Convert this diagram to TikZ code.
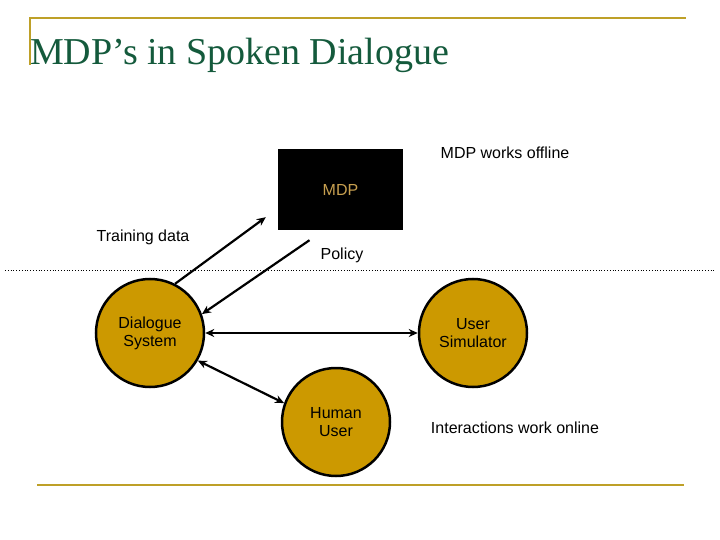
\documentclass[tikz,border=0pt]{standalone}
\usepackage{fontspec}
\setmainfont{Liberation Sans}
\newfontfamily\titlefont{Liberation Serif}
\usetikzlibrary{arrows.meta}
\definecolor{gold}{RGB}{204,153,0}
\definecolor{rule}{RGB}{190,160,40}
\definecolor{ttl}{RGB}{20,90,60}
\begin{document}
\begin{tikzpicture}[x=1pt,y=-1pt,
  lbl/.style={font=\fontsize{16}{18}\selectfont, align=center},
  circ/.style={circle, draw=black, line width=2.5pt, fill=gold, minimum size=108pt, inner sep=0pt, lbl},
  arr/.style={line width=2.2pt, -{Stealth[length=9pt,width=8pt]}},
  darr/.style={line width=2.2pt, {Stealth[length=9pt,width=8pt]}-{Stealth[length=9pt,width=8pt]}}]
\useasboundingbox (0,0) rectangle (720,540);
\draw[rule, line width=1.5pt] (30,65) -- (30,18) -- (686,18);
\draw[rule, line width=1.5pt] (37,485) -- (684,485);
\node[anchor=base west, text=ttl, font=\titlefont\fontsize{38}{40}\selectfont, inner sep=0] (title) at (30,65) {MDP’s in Spoken Dialogue};
\draw[dotted, line width=0.8pt] (5,270) -- (715,270);
\node[fill=black, minimum width=125pt, minimum height=81pt, inner sep=0, text={rgb,255:red,200;green,160;blue,80}, lbl] (mdp) at (340.5,189.5) {MDP};
\node[lbl] (off) at (505,153) {MDP works offline};
\node[lbl] (td) at (143,237) {Training data};
\node[lbl] (pol) at (342,255) {Policy};
\node[circ] (ds) at (150,333) {Dialogue\\System};
\node[circ] (us) at (473,333) {User\\Simulator};
\node[circ] (hu) at (336,422) {Human\\User};
\node[lbl] (onl) at (515,428) {Interactions work online};
\draw[arr] (ds.63) -- ([shift={(-12,-13)}]mdp.south west);
\draw[arr] ([shift={(-31,10)}]mdp.south) -- (ds.20);
\draw[darr] (ds.east) -- (us.west);
\draw[darr] (ds.-30) -- (hu.160);
\end{tikzpicture}
\end{document}
